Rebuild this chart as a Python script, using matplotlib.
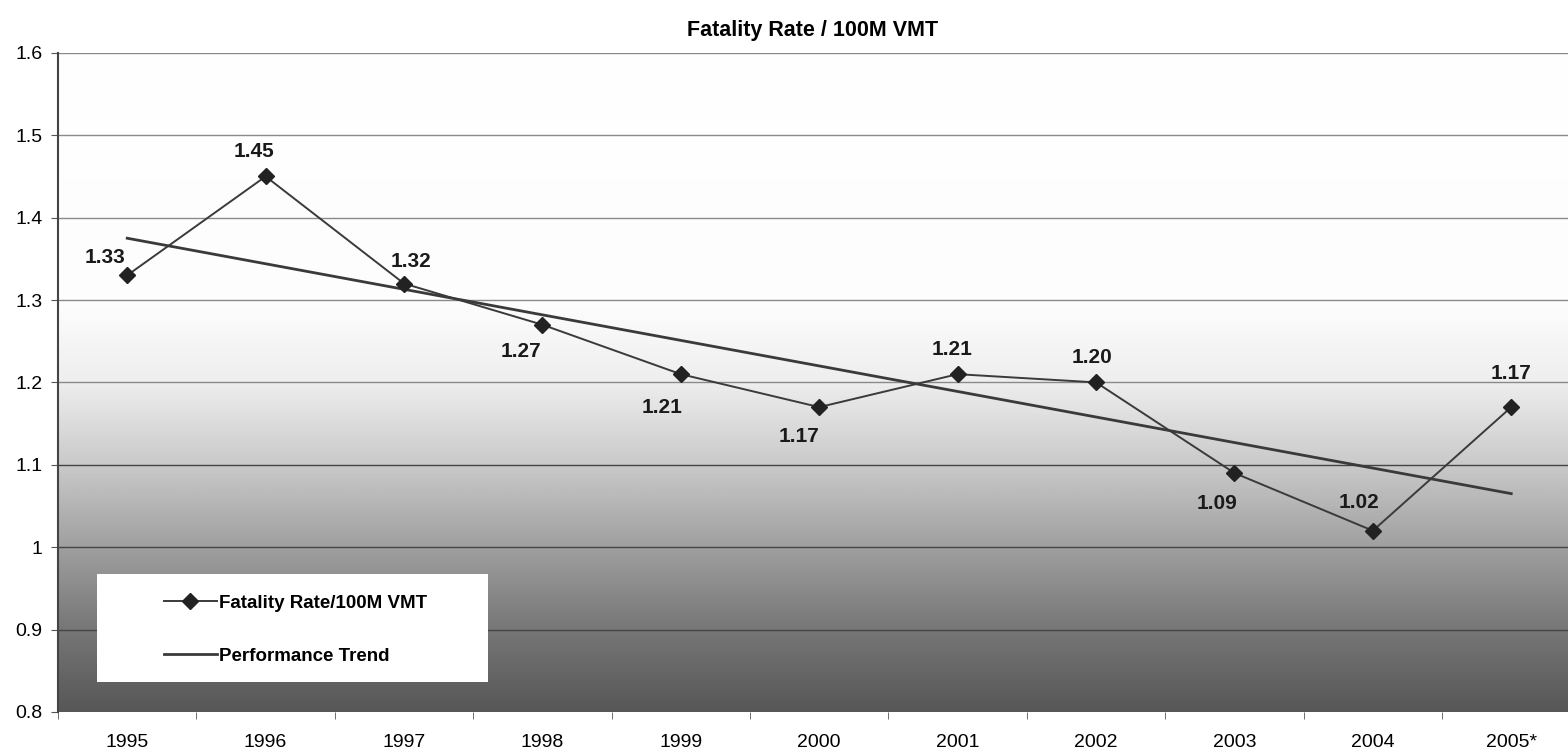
import numpy as np
import matplotlib
matplotlib.use("Agg")
import matplotlib.pyplot as plt
from matplotlib.colors import LinearSegmentedColormap
from matplotlib.patches import Rectangle

plt.rcParams['font.family'] = ['Liberation Sans', 'DejaVu Sans']

# data
years = ['1995', '1996', '1997', '1998', '1999', '2000',
         '2001', '2002', '2003', '2004', '2005*']
rate = [1.33, 1.45, 1.32, 1.27, 1.21, 1.17, 1.21, 1.20, 1.09, 1.02, 1.17]
trend_x = [0, 10]
trend_y = [1.375, 1.065]

# label offsets (pixels) relative to each point
label_dx = [-22, -12, 7, -21, -19, -20, -6, -4, -17, -14, 0]
label_dy = [18, 25, 22, -27, -33, -29, 25, 25, -30, 28, 34]

fig = plt.figure(figsize=(15.68, 7.55), dpi=100)
ax = fig.add_axes([0.037, 0.057, 0.963, 0.873])

x = np.arange(len(years))

# shaded background: white at top, dark gray at bottom
cmap = LinearSegmentedColormap.from_list(
    'bg', [(0.0, '#575757'), (0.125, '#777777'), (0.25, '#a0a0a0'),
           (0.375, '#cacaca'), (0.5, '#eeeeee'), (0.62, '#fdfdfd'),
           (1.0, '#ffffff')])
grad = np.linspace(0, 1, 400).reshape(-1, 1)
ax.imshow(grad, cmap=cmap, origin='lower', aspect='auto',
          extent=[-0.5, 10.41, 0.8, 1.6], zorder=0)

for yv in np.arange(0.9, 1.61, 0.1):
    ax.axhline(yv, color='#444444' if yv < 1.15 else '#8a8a8a',
               lw=1.0, zorder=1)

ax.plot(trend_x, trend_y, color='#3a3a3a', lw=2.0, zorder=2,
        label='Performance Trend')
ax.plot(x, rate, color='#3a3a3a', lw=1.4, marker='D', markersize=8,
        markerfacecolor='#222222', markeredgecolor='#222222', zorder=3,
        label='Fatality Rate/100M VMT')

for xi, v, dx, dy in zip(x, rate, label_dx, label_dy):
    ax.annotate(f'{v:.2f}', (xi, v), xytext=(dx, dy),
                textcoords='offset pixels', ha='center', va='center',
                fontsize=15, fontweight='bold', color='#1a1a1a', zorder=4)

ax.set_xlim(-0.5, 10.41)
ax.set_ylim(0.8, 1.6)
ax.set_yticks(np.arange(0.8, 1.61, 0.1))
ax.set_yticklabels(['0.8', '0.9', '1', '1.1', '1.2', '1.3', '1.4', '1.5', '1.6'])
ax.set_xticks(x)
ax.set_xticklabels(years)
ax.set_xticks(np.arange(-0.5, 10.5, 1.0), minor=True)
ax.tick_params(axis='x', which='major', length=0, pad=16, labelsize=14)
ax.tick_params(axis='x', which='minor', length=5, color='#555555')
ax.tick_params(axis='y', length=5, color='#555555', labelsize=14, pad=6)

for s in ['top', 'right', 'bottom']:
    ax.spines[s].set_visible(False)
ax.spines['left'].set_color('#444444')
ax.spines['left'].set_linewidth(1.5)

ax.set_title('Fatality Rate / 100M VMT', fontsize=15.5, fontweight='bold',
             pad=12)

# white legend box
ax.add_patch(Rectangle((0.026, 0.045), 0.259, 0.164, transform=ax.transAxes,
                       facecolor='white', edgecolor='none', zorder=5))
handles, labels = ax.get_legend_handles_labels()
leg = ax.legend(handles[::-1], labels[::-1], loc='center left',
                bbox_to_anchor=(0.064, 0.125), frameon=False,
                borderpad=0, handlelength=2.8, handletextpad=0.15,
                labelspacing=1.9, prop={'size': 13.5, 'weight': 'bold'})
leg.set_zorder(6)

fig.savefig('out.png', dpi=100)
